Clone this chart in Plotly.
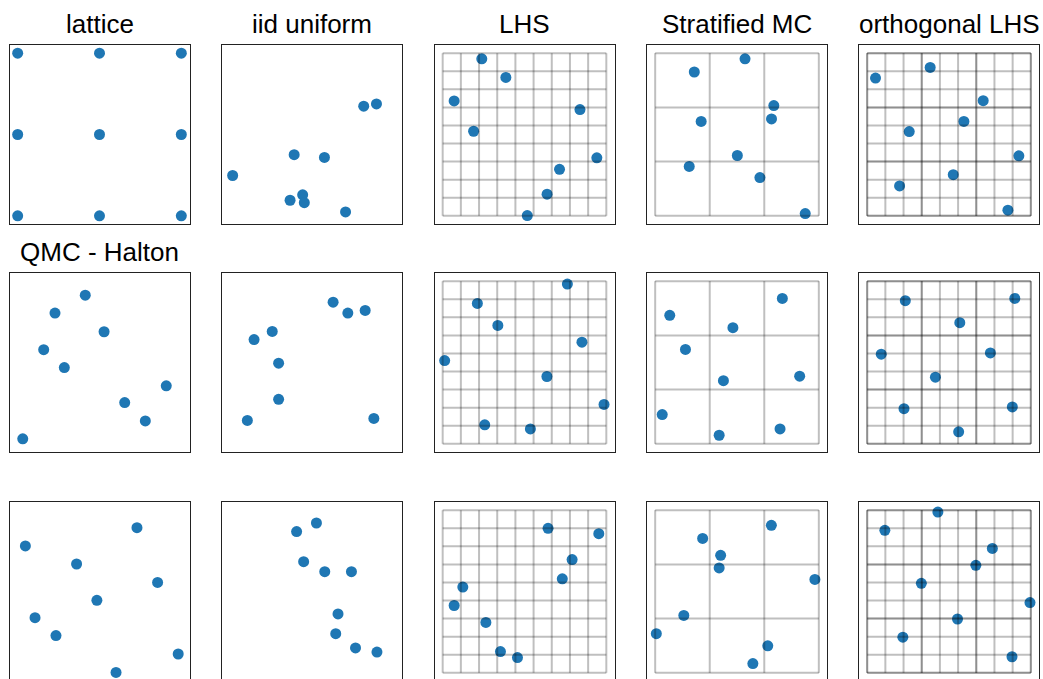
import plotly.graph_objects as go

# ---------------- data ----------------
titles = ["lattice", "iid uniform", "LHS", "Stratified MC", "orthogonal LHS",
          "QMC - Halton", "", "", "", "",
          "", "", "", "", ""]

# row 1
lattice_x = [0.0, 0.5, 1.0, 0.0, 0.5, 1.0, 0.0, 0.5, 1.0]
lattice_y = [1.0, 1.0, 1.0, 0.5, 0.5, 0.5, 0.0, 0.0, 0.0]
iid1_x = [0.816, 0.894, 0.391, 0.576, 0.015, 0.443, 0.366, 0.453, 0.705]
iid1_y = [0.674, 0.688, 0.376, 0.359, 0.248, 0.129, 0.096, 0.081, 0.024]
lhs1_x = [0.239, 0.386, 0.070, 0.839, 0.189, 0.942, 0.714, 0.638, 0.517]
lhs1_y = [0.965, 0.851, 0.706, 0.653, 0.520, 0.357, 0.286, 0.133, 0.002]
strat1_x = [0.549, 0.239, 0.725, 0.711, 0.281, 0.502, 0.208, 0.640, 0.917]
strat1_y = [0.965, 0.884, 0.678, 0.596, 0.580, 0.371, 0.304, 0.235, 0.014]
olhs1_x = [0.385, 0.051, 0.709, 0.591, 0.257, 0.927, 0.526, 0.198, 0.860]
olhs1_y = [0.912, 0.847, 0.708, 0.580, 0.518, 0.369, 0.253, 0.184, 0.035]

# row 2
halton_x = [0.413, 0.228, 0.528, 0.159, 0.285, 0.908, 0.654, 0.780, 0.031]
halton_y = [0.914, 0.804, 0.689, 0.579, 0.469, 0.357, 0.254, 0.141, 0.031]
iid2_x = [0.629, 0.719, 0.825, 0.257, 0.146, 0.296, 0.296, 0.105, 0.878]
iid2_y = [0.871, 0.804, 0.820, 0.691, 0.641, 0.496, 0.274, 0.144, 0.156]
lhs2_x = [0.762, 0.212, 0.337, 0.851, 0.012, 0.637, 0.986, 0.257, 0.536]
lhs2_y = [0.982, 0.863, 0.728, 0.625, 0.512, 0.414, 0.242, 0.117, 0.092]
strat2_x = [0.777, 0.089, 0.475, 0.185, 0.417, 0.883, 0.043, 0.391, 0.763]
strat2_y = [0.894, 0.790, 0.714, 0.580, 0.388, 0.416, 0.180, 0.053, 0.092]
olhs2_x = [0.233, 0.902, 0.566, 0.086, 0.753, 0.417, 0.225, 0.887, 0.559]
olhs2_y = [0.880, 0.894, 0.745, 0.551, 0.559, 0.410, 0.216, 0.227, 0.074]

# row 3
qmc3_x = [0.729, 0.047, 0.360, 0.855, 0.484, 0.106, 0.234, 0.981, 0.601]
qmc3_y = [0.892, 0.780, 0.669, 0.556, 0.446, 0.339, 0.229, 0.116, 0.003]
iid3_x = [0.527, 0.406, 0.449, 0.578, 0.741, 0.659, 0.645, 0.766, 0.897]
iid3_y = [0.921, 0.868, 0.683, 0.622, 0.622, 0.362, 0.241, 0.153, 0.128]
lhs3_x = [0.644, 0.954, 0.791, 0.731, 0.123, 0.070, 0.264, 0.353, 0.457]
lhs3_y = [0.888, 0.855, 0.696, 0.578, 0.527, 0.414, 0.310, 0.131, 0.094]
strat3_x = [0.710, 0.290, 0.400, 0.391, 0.976, 0.175, 0.007, 0.688, 0.597]
strat3_y = [0.907, 0.826, 0.722, 0.645, 0.574, 0.353, 0.241, 0.166, 0.057]
olhs3_x = [0.432, 0.108, 0.765, 0.664, 0.331, 0.995, 0.552, 0.218, 0.885]
olhs3_y = [0.988, 0.876, 0.765, 0.661, 0.550, 0.432, 0.331, 0.219, 0.099]

panel_x = [lattice_x, iid1_x, lhs1_x, strat1_x, olhs1_x,
           halton_x, iid2_x, lhs2_x, strat2_x, olhs2_x,
           qmc3_x, iid3_x, lhs3_x, strat3_x, olhs3_x]
panel_y = [lattice_y, iid1_y, lhs1_y, strat1_y, olhs1_y,
           halton_y, iid2_y, lhs2_y, strat2_y, olhs2_y,
           qmc3_y, iid3_y, lhs3_y, strat3_y, olhs3_y]

N_FINE = 9     # LHS strata
N_COARSE = 3   # stratified MC blocks

# ---------------- layout geometry ----------------
W, H = 1043, 679
col_left = [9.5, 222, 434.5, 647, 859]
row_top = [45, 273, 502]
BOX_W, BOX_H = 180, 179
LO, HI = -0.05, 1.05

fig = go.Figure()
layout = dict(width=W, height=H, margin=dict(l=0, r=0, t=0, b=0),
              paper_bgcolor="white", plot_bgcolor="white", showlegend=False)
shapes = []
annotations = []

def grid_shapes(n, xr, yr):
    out = []
    for k in range(n + 1):
        v = k / n
        for (x0, x1, y0, y1) in [(v, v, 0, 1), (0, 1, v, v)]:
            out.append(dict(type="line", xref=xr, yref=yr, x0=x0, x1=x1,
                            y0=y0, y1=y1, layer="above",
                            line=dict(color="rgba(0,0,0,0.25)", width=2)))
    return out

for i in range(15):
    r, c = divmod(i, 5)
    k = i + 1
    xa = "xaxis" if k == 1 else f"xaxis{k}"
    ya = "yaxis" if k == 1 else f"yaxis{k}"
    xr = "x" if k == 1 else f"x{k}"
    yr = "y" if k == 1 else f"y{k}"
    left = col_left[c]
    top = row_top[r]
    bottom = top + BOX_H
    y_lo = LO
    if bottom > H:
        y_lo = HI - (HI - LO) * (H - top) / BOX_H
        bottom = H
    xdom = [left / W, (left + BOX_W) / W]
    ydom = [1 - bottom / H, 1 - top / H]
    clipped = (y_lo != LO)
    layout[xa] = dict(domain=xdom, range=[LO, HI], anchor=yr,
                      showgrid=False, zeroline=False, showticklabels=False,
                      ticks="", showline=True, linecolor="#222", linewidth=1,
                      mirror=not clipped, side="top" if clipped else "bottom",
                      fixedrange=True)
    layout[ya] = dict(domain=ydom, range=[y_lo, HI], anchor=xr,
                      showgrid=False, zeroline=False, showticklabels=False,
                      ticks="", showline=True, linecolor="#222", linewidth=1,
                      mirror=True, fixedrange=True)
    fig.add_trace(go.Scatter(x=panel_x[i], y=panel_y[i], mode="markers",
                             xaxis=xr, yaxis=yr, cliponaxis=False,
                             marker=dict(size=11, color="#1f77b4",
                                         line=dict(width=0)),
                             hoverinfo="skip"))
    if c == 2:
        shapes += grid_shapes(N_FINE, xr, yr)
    elif c == 3:
        shapes += grid_shapes(N_COARSE, xr, yr)
    elif c == 4:
        shapes += grid_shapes(N_FINE, xr, yr)
        shapes += grid_shapes(N_COARSE, xr, yr)
    if titles[i]:
        annotations.append(dict(text=titles[i], xref="paper", yref="paper",
                                x=(left + BOX_W / 2) / W, y=1 - (top - 4) / H,
                                xanchor="center", yanchor="bottom",
                                showarrow=False,
                                font=dict(family="Liberation Sans", size=26,
                                          color="black")))

layout["shapes"] = shapes
layout["annotations"] = annotations
fig.update_layout(**layout)
fig.write_html("out.html",
               config={"displayModeBar": False},
               post_script="document.body.style.margin='0px';"
                           "document.body.style.overflow='hidden';")
